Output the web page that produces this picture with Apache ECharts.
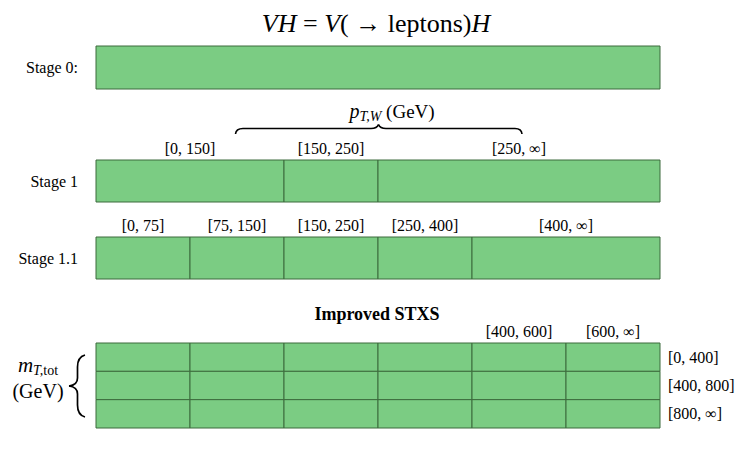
<!DOCTYPE html>
<html><head><meta charset="utf-8">
<script src="https://cdn.jsdelivr.net/npm/echarts@6/dist/echarts.min.js"></script>
<style>html,body{margin:0;padding:0;background:#fff}#chart{width:747px;height:451px}</style>
</head><body><div id="chart"></div>
<script>
// ---- data ----
const stageNames = ['Stage 0:', 'Stage 1', 'Stage 1.1'];
const stage0Edges = [0, 6];
const stage0Labels = [''];
const stage1Edges = [0, 2, 3, 6];
const stage1Labels = ['[0, 150]', '[150, 250]', '[250, ∞]'];
const stage11Edges = [0, 1, 2, 3, 4, 6];
const stage11Labels = ['[0, 75]', '[75, 150]', '[150, 250]', '[250, 400]', '[400, ∞]'];
const improvedEdges = [0, 1, 2, 3, 4, 5, 6];
const improvedTopLabels = ['', '', '', '', '[400, 600]', '[600, ∞]'];
const mtBins = ['[0, 400]', '[400, 800]', '[800, ∞]'];

// ---- styles ----
const FILL = '#7bcc83', STROKE = '#3d6b3d';
const SERIF = 'Liberation Serif, serif';

function binsFromEdges(edges, row) {
  const out = [];
  for (let i = 0; i < edges.length - 1; i++) out.push([edges[i], edges[i + 1], row]);
  return out;
}
function makeRender(labels) {
  return function (params, api) {
    const x0 = api.value(0), x1 = api.value(1), row = api.value(2);
    const a = api.coord([x0, row]), b = api.coord([x1, row]);
    const h = api.size([0, 1])[1];
    const top = a[1] - h / 2;
    const kids = [{
      type: 'rect',
      shape: { x: a[0], y: top, width: b[0] - a[0], height: h },
      style: { fill: FILL, stroke: STROKE, lineWidth: 1 }
    }];
    const t = labels[params.dataIndex];
    if (t) kids.push({
      type: 'text', x: (a[0] + b[0]) / 2, y: top - 4,
      style: { text: t, fill: '#000', font: '16px ' + SERIF, fontSize: 16, fontFamily: SERIF, align: 'center', verticalAlign: 'bottom' }
    });
    return { type: 'group', children: kids };
  };
}

const improvedData = [], improvedLabels = [];
mtBins.forEach((_, r) => {
  for (let c = 0; c < improvedEdges.length - 1; c++) {
    improvedData.push([improvedEdges[c], improvedEdges[c + 1], r]);
    improvedLabels.push(r === 0 ? improvedTopLabels[c] : '');
  }
});

const grids = [
  { left: 96, width: 564, top: 46, height: 43 },
  { left: 96, width: 564, top: 160, height: 42 },
  { left: 96, width: 564, top: 237, height: 42 },
  { left: 96, width: 564, top: 343, height: 85 }
];
const xAxes = grids.map((g, i) => ({ type: 'value', gridIndex: i, min: 0, max: 6, show: false }));
const stageY = (i) => ({
  type: 'category', gridIndex: i, data: [stageNames[i]],
  axisLine: { show: false }, axisTick: { show: false }, splitLine: { show: false },
  axisLabel: { color: '#000', fontSize: 16, fontFamily: SERIF, margin: 18 }
});
const yAxes = [stageY(0), stageY(1), stageY(2), {
  type: 'category', gridIndex: 3, data: mtBins, inverse: true, position: 'right',
  axisLine: { show: false }, axisTick: { show: false }, splitLine: { show: false },
  axisLabel: { color: '#000', fontSize: 16, fontFamily: SERIF, margin: 8, align: 'left' }
}];

const series = [
  { type: 'custom', xAxisIndex: 0, yAxisIndex: 0, data: binsFromEdges(stage0Edges, 0), encode: { x: [0, 1], y: 2 }, renderItem: makeRender(stage0Labels) },
  { type: 'custom', xAxisIndex: 1, yAxisIndex: 1, data: binsFromEdges(stage1Edges, 0), encode: { x: [0, 1], y: 2 }, renderItem: makeRender(stage1Labels) },
  { type: 'custom', xAxisIndex: 2, yAxisIndex: 2, data: binsFromEdges(stage11Edges, 0), encode: { x: [0, 1], y: 2 }, renderItem: makeRender(stage11Labels) },
  { type: 'custom', xAxisIndex: 3, yAxisIndex: 3, data: improvedData, encode: { x: [0, 1], y: 2 }, renderItem: makeRender(improvedLabels) }
];

const braceStyle = (w) => ({ fill: 'none', stroke: '#000', lineWidth: w });
const qc = (x1, y1, cx, cy, x2, y2, w) => ({ type: 'bezierCurve', shape: { x1, y1, cpx1: cx, cpy1: cy, x2, y2 }, style: braceStyle(w) });
const ln = (x1, y1, x2, y2, w) => ({ type: 'line', shape: { x1, y1, x2, y2 }, style: braceStyle(w) });

const graphic = [
  { type: 'text', x: 376, y: 23, style: {
      text: '{i|VH} = {i|V}( → leptons){i|H}', fontSize: 26, fontFamily: SERIF, fill: '#000',
      align: 'center', verticalAlign: 'middle',
      rich: { i: { fontStyle: 'italic', fontSize: 26, fontFamily: SERIF } } } },
  { type: 'text', x: 392, y: 111, style: {
      text: '{i|p}{s|T,W}{n| (GeV)}', fontSize: 19, fontFamily: SERIF, fill: '#000',
      align: 'center', verticalAlign: 'middle',
      rich: {
        i: { fontStyle: 'italic', fontSize: 20, lineHeight: 24, fontFamily: SERIF },
        s: { fontStyle: 'italic', fontSize: 14, lineHeight: 13, verticalAlign: 'bottom', fontFamily: SERIF },
        n: { fontSize: 19, lineHeight: 24, fontFamily: SERIF }
      } } },
  // horizontal brace
  qc(235.5, 134, 236, 128.5, 243, 128.5, 1.6),
  ln(243, 128.5, 371, 128.5, 1.6),
  qc(371, 128.5, 377, 128.5, 378.5, 124.5, 1.6),
  qc(378.5, 124.5, 380, 128.5, 386, 128.5, 1.6),
  ln(386, 128.5, 515, 128.5, 1.6),
  qc(515, 128.5, 521.5, 128.5, 522, 134, 1.6),
  { type: 'text', x: 377, y: 314, style: {
      text: 'Improved STXS', fontSize: 18, fontWeight: 'bold', fontFamily: SERIF, fill: '#000',
      align: 'center', verticalAlign: 'middle' } },
  { type: 'text', x: 38, y: 365, style: {
      text: '{i|m}{s|T,}{r|tot}', fontSize: 20, fontFamily: SERIF, fill: '#000',
      align: 'center', verticalAlign: 'middle',
      rich: {
        i: { fontStyle: 'italic', fontSize: 21, lineHeight: 24, fontFamily: SERIF },
        s: { fontStyle: 'italic', fontSize: 14, lineHeight: 13, verticalAlign: 'bottom', fontFamily: SERIF },
        r: { fontSize: 14, lineHeight: 13, verticalAlign: 'bottom', fontFamily: SERIF }
      } } },
  { type: 'text', x: 38, y: 391, style: {
      text: '(GeV)', fontSize: 20, fontFamily: SERIF, fill: '#000', align: 'center', verticalAlign: 'middle' } },
  // vertical brace
  qc(85, 355, 77.5, 357, 77.5, 367, 1.7),
  ln(77.5, 367, 77.5, 378, 1.7),
  qc(77.5, 378, 77.5, 385, 69, 386, 1.7),
  qc(69, 386, 77.5, 387, 77.5, 394, 1.7),
  ln(77.5, 394, 77.5, 405, 1.7),
  qc(77.5, 405, 77.5, 415, 85, 417, 1.7)
];

const chart = echarts.init(document.getElementById('chart'), null, { renderer: 'svg', width: 747, height: 451 });
chart.setOption({
  animation: false,
  backgroundColor: '#fff',
  textStyle: { fontFamily: SERIF },
  grid: grids,
  xAxis: xAxes,
  yAxis: yAxes,
  series: series,
  graphic: graphic
});
</script>
</body></html>
